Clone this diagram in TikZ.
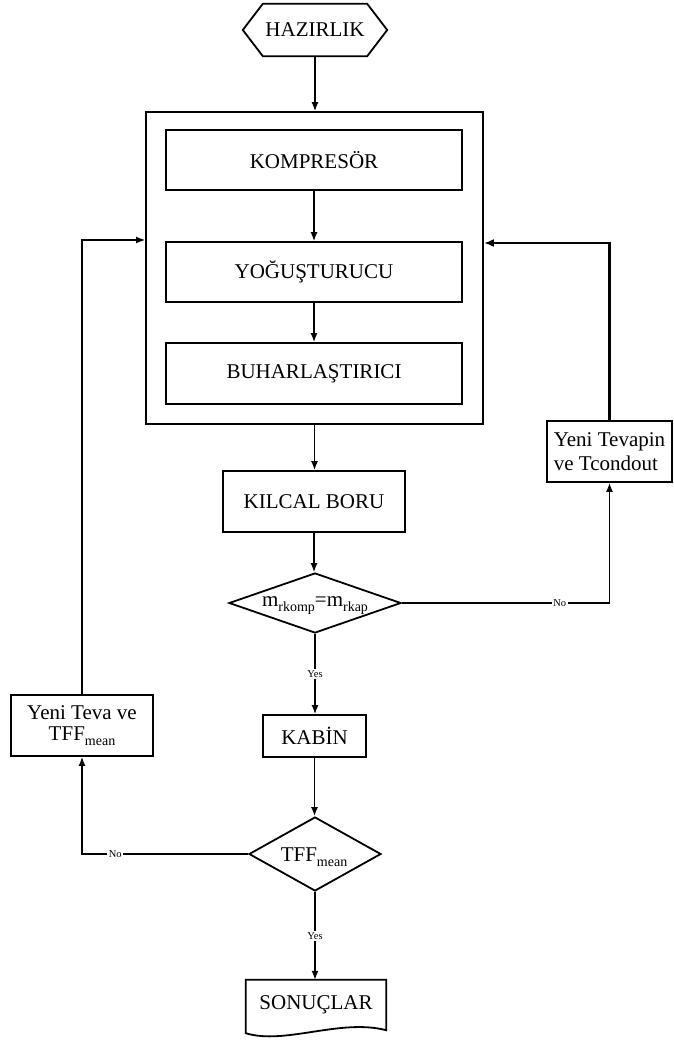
\documentclass[tikz,border=0pt]{standalone}
\usepackage{fontspec}
\setmainfont{Liberation Serif}
\usetikzlibrary{arrows.meta,shapes.geometric,calc}
\newcommand\mysub[1]{\raisebox{-5pt}{\fontsize{14}{14}\selectfont #1}}
\begin{document}
\begin{tikzpicture}[x=1pt,y=-1pt,
  blk/.style={draw, line width=1.8pt, inner sep=0pt, font=\fontsize{21}{23}\selectfont},
  dia/.style={diamond, draw, line width=1.8pt, inner sep=0pt},
  txt/.style={inner sep=0pt, font=\fontsize{21}{23}\selectfont},
  conn/.style={line width=1.4pt, -{Latex[length=9pt,width=7pt]}},
  lbl/.style={fill=white, inner sep=1.5pt, font=\fontsize{10.5}{11}\selectfont}]
\useasboundingbox (0,0) rectangle (673,1040);

% start hexagon
\node[txt, minimum width=144pt, minimum height=52pt] (hz) at (315,30) {HAZIRLIK};
\draw[line width=1.8pt] (hz.west) -- ($(hz.north west)+(20,0)$) -- ($(hz.north east)+(-20,0)$)
  -- (hz.east) -- ($(hz.south east)+(-20,0)$) -- ($(hz.south west)+(20,0)$) -- cycle;

% big box
\node[draw, line width=1.8pt, minimum width=337pt, minimum height=312pt, inner sep=0pt] (big) at (314.5,268) {};
\node[blk, minimum width=296pt, minimum height=60pt] (komp) at (314,160) {KOMPRESÖR};
\node[blk, minimum width=296pt, minimum height=60pt] (yog) at (314,272) {YOĞUŞTURUCU};
\node[blk, minimum width=296pt, minimum height=61pt] (buh) at (314,373.5) {BUHARLAŞTIRICI};

\node[blk, minimum width=182pt, minimum height=61pt] (kil) at (314,501.5) {KILCAL BORU};

\node[dia, minimum width=172pt, minimum height=60pt] (d1) at (315,603) {};
\node[txt] (d1t) at (315,606) {m\mysub{rkomp}=m\mysub{rkap}};

\node[blk, minimum width=103pt, minimum height=42pt] (kab) at (314.5,736) {KABİN};

\node[dia, minimum width=132pt, minimum height=74pt] (d2) at (315,854) {};
\node[txt] (d2t) at (314,857) {TFF\mysub{mean}};

\node[txt, minimum width=140pt, minimum height=50pt] (son) at (316,1005) {SONUÇLAR};
\draw[line width=1.8pt] ($(son.south west)+(0,3)$) -- (son.north west) -- (son.north east) -- (son.south east)
  .. controls ($(son.south east)+(-46,-12)$) and ($(son.south west)+(39,15)$) .. ($(son.south west)+(0,3)$) -- cycle;

\node[blk, minimum width=142pt, minimum height=61pt, align=center, font=\fontsize{21}{21}\selectfont] (teva) at (82,725.5) {Yeni Teva ve\\TFF\mysub{mean}};
\node[blk, minimum width=125pt, minimum height=61pt, align=left, font=\fontsize{21}{24}\selectfont] (tevapin) at (609.5,451.5) {Yeni Tevapin\\ve Tcondout};

% connectors
\draw[conn] (hz.south) -- (hz.south |- big.north);
\draw[conn] (komp) -- (yog);
\draw[conn] (yog) -- (buh);
\draw[conn] (big.south) -- (big.south |- kil.north);
\draw[conn] (kil.south) -- (kil.south |- d1.north);
\draw[conn] (d1.south) -- node[lbl] {Yes} (d1.south |- kab.north);
\draw[conn] (kab.south) -- (kab.south |- d2.north);
\draw[conn] (d2.south) -- node[lbl] {Yes} (d2.south |- son.north);
\draw[conn] (d1.east) -- node[lbl, pos=0.76] {No} (d1.east -| tevapin.south) -- (tevapin.south);
\draw[conn] (d2.west) -- node[lbl, pos=0.8] {No} (d2.west -| teva.south) -- (teva.south);
\draw[conn] (teva.north) |- ($(big.west)+(0,-28)$);
\draw[conn, line width=2.2pt, -{Latex[length=10pt,width=8pt]}] (tevapin.north) |- ($(big.east)+(0,-25)$);
\end{tikzpicture}
\end{document}
